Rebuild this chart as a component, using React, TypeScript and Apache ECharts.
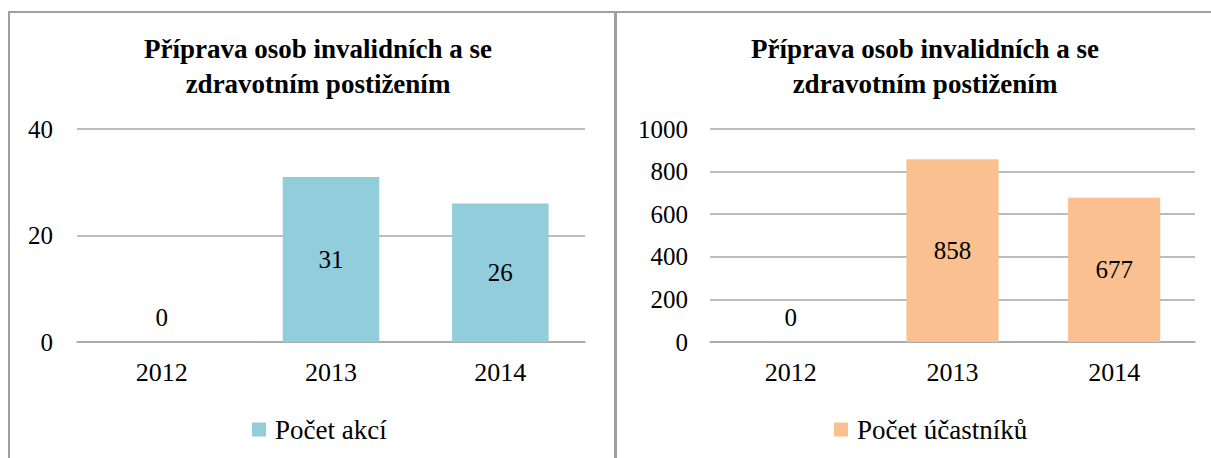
import React, { useEffect, useRef } from "react";
import * as echarts from "echarts";

const categories = ["2012", "2013", "2014"];
const actionCounts = [0, 31, 26];
const participantCounts = [0, 858, 677];
const chartTitle = "Příprava osob invalidních a se\nzdravotním postižením";
const leftSeriesName = "Počet akcí";
const rightSeriesName = "Počet účastníků";

const FONT = '"Liberation Serif", "Times New Roman", serif';
const FS = 25;

function toData(values: number[]) {
  return values.map((v) =>
    v === 0 ? { value: v, label: { position: "top", distance: 12 } } : v
  );
}

export default function App() {
  const ref = useRef<HTMLDivElement>(null);
  useEffect(() => {
    if (!ref.current) return;
    const chart = echarts.init(ref.current, null, { renderer: "svg" });
    const axisLabel = { color: "#000", fontFamily: FONT, fontSize: FS };
    const gridColor = "#a6a6a6";
    const makeX = (gridIndex: number) => ({
      type: "category",
      gridIndex,
      data: categories,
      axisTick: { show: false },
      axisLine: { lineStyle: { color: gridColor, width: 1.5 } },
      axisLabel: { ...axisLabel, fontSize: 26, margin: 17 },
    });
    const makeY = (gridIndex: number, max: number, interval: number, margin: number) => ({
      type: "value",
      gridIndex,
      min: 0,
      max,
      interval,
      axisLine: { show: false },
      axisTick: { show: false },
      splitLine: { lineStyle: { color: gridColor, width: 1.5 } },
      axisLabel: { ...axisLabel, margin, formatter: (v: number) => String(v) },
    });
    const seriesLabel = {
      show: true,
      position: "inside",
      color: "#000",
      fontFamily: FONT,
      fontSize: FS,
    };
    const titleStyle = {
      fontFamily: FONT,
      fontSize: 27,
      fontWeight: "bold",
      color: "#000",
      lineHeight: 35,
    };
    const legendBase = {
      top: 411,
      icon: "rect",
      itemWidth: 14,
      itemHeight: 14,
      itemGap: 6,
      textStyle: { fontFamily: FONT, fontSize: 27, color: "#000", padding: [0, 0, 0, 4] },
    };
    chart.setOption({
      animation: false,
      backgroundColor: "#fff",
      title: [
        { text: chartTitle, left: 313, top: 26, textAlign: "center", textStyle: titleStyle },
        { text: chartTitle, left: 920, top: 26, textAlign: "center", textStyle: titleStyle },
      ],
      legend: [
        { ...legendBase, data: [leftSeriesName], left: 247 },
        { ...legendBase, data: [rightSeriesName], left: 829 },
      ],
      grid: [
        { left: 77, top: 129, width: 508, height: 213 },
        { left: 710, top: 129, width: 485, height: 213 },
      ],
      xAxis: [makeX(0), makeX(1)],
      yAxis: [makeY(0, 40, 20, 24), makeY(1, 1000, 200, 22)],
      series: [
        {
          name: leftSeriesName,
          type: "bar",
          xAxisIndex: 0,
          yAxisIndex: 0,
          barWidth: "57%",
          itemStyle: { color: "#92CDDC" },
          label: seriesLabel,
          data: toData(actionCounts),
        },
        {
          name: rightSeriesName,
          type: "bar",
          xAxisIndex: 1,
          yAxisIndex: 1,
          barWidth: "57%",
          itemStyle: { color: "#FAC090" },
          label: seriesLabel,
          data: toData(participantCounts),
        },
      ],
      graphic: [
        {
          type: "rect",
          shape: { x: 9, y: 12, width: 606, height: 470 },
          style: { fill: "none", stroke: "#a0a0a0", lineWidth: 2 },
          silent: true,
        },
        {
          type: "rect",
          shape: { x: 616, y: 12, width: 620, height: 470 },
          style: { fill: "none", stroke: "#a0a0a0", lineWidth: 2 },
          silent: true,
        },
      ],
    });
    return () => chart.dispose();
  }, []);
  return (
    <div
      ref={ref}
      style={{ position: "fixed", left: 0, top: 0, width: 1211, height: 458 }}
    />
  );
}
